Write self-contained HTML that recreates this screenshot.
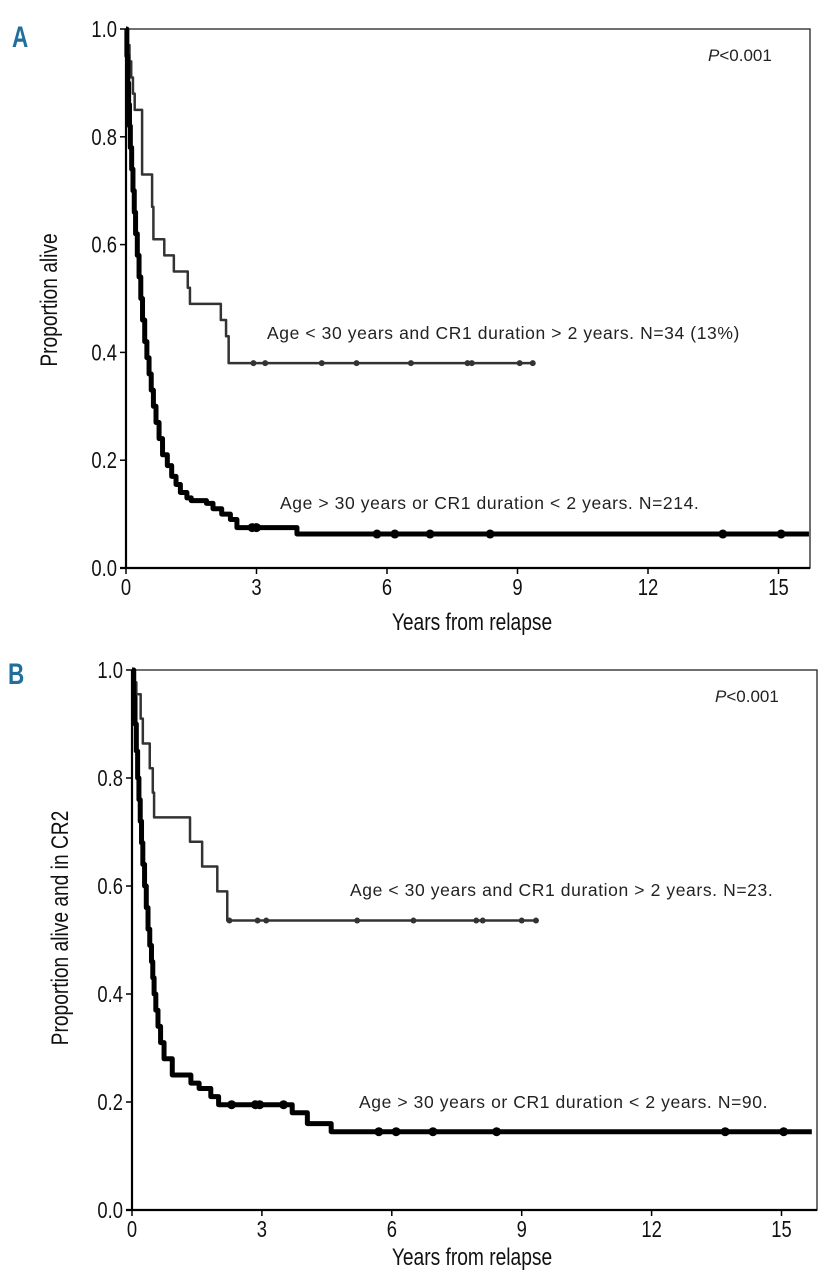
<!DOCTYPE html>
<html><head><meta charset="utf-8"><style>
html,body{margin:0;padding:0;background:#fff;}
svg{display:block;font-family:"Liberation Sans",sans-serif;}
</style></head><body>
<svg id="chart" width="832" height="1280" viewBox="0 0 832 1280"></svg>
<script>
// Shared tick data
const yTicks = [0, 0.2, 0.4, 0.6, 0.8, 1.0];
const yTickLabels = ["0.0","0.2","0.4","0.6","0.8","1.0"];
const xTicks = [0, 3, 6, 9, 12, 15];
const xTickLabels = ["0","3","6","9","12","15"];

// Panel A, group 1 (Age<30 & CR1>2y): times where survival changes to surv[i]
const aG1Times = [0,0.04,0.08,0.12,0.16,0.2,0.37,0.6,0.63,0.88,1.1,1.42,1.47,2.18,2.3,2.36,9.35];
const aG1Surv  = [1.0,0.97,0.94,0.91,0.88,0.85,0.73,0.67,0.61,0.58,0.55,0.52,0.49,0.46,0.43,0.38,0.38];
const aG1Cens  = [2.93,3.2,4.5,5.3,6.55,7.85,7.95,9.05,9.35];
// Panel A, group 2
const aG2Times = [0,0.02,0.04,0.06,0.08,0.1,0.13,0.16,0.19,0.22,0.26,0.3,0.34,0.38,0.43,0.48,0.53,0.58,0.63,0.69,0.76,0.84,0.95,1.05,1.15,1.25,1.4,1.5,1.85,2.0,2.2,2.4,2.55,3.93,15.7];
const aG2Surv  = [1.0,0.95,0.9,0.86,0.82,0.78,0.74,0.7,0.66,0.62,0.58,0.54,0.5,0.46,0.42,0.39,0.36,0.33,0.3,0.27,0.24,0.21,0.19,0.17,0.155,0.14,0.13,0.125,0.12,0.11,0.1,0.09,0.075,0.063,0.063];
const aG2Cens  = [2.9,3.0,5.77,6.18,6.99,8.37,13.72,15.06];

// Panel B, group 1
const bG1Times = [0,0.05,0.1,0.2,0.25,0.41,0.48,0.51,1.34,1.62,1.97,2.2,9.35];
const bG1Surv  = [1.0,0.977,0.955,0.91,0.864,0.818,0.773,0.727,0.682,0.636,0.59,0.536,0.536];
const bG1Cens  = [2.25,2.9,3.1,5.2,6.5,7.95,8.1,9.0,9.33];
// Panel B, group 2
const bG2Times = [0,0.04,0.07,0.1,0.13,0.16,0.19,0.22,0.25,0.29,0.33,0.37,0.41,0.45,0.48,0.51,0.55,0.6,0.66,0.74,0.93,1.36,1.55,1.82,2.0,3.7,4.05,4.6,15.7];
const bG2Surv  = [1.0,0.95,0.9,0.85,0.8,0.76,0.72,0.68,0.64,0.6,0.56,0.52,0.49,0.46,0.43,0.4,0.37,0.34,0.31,0.28,0.25,0.235,0.225,0.21,0.195,0.18,0.16,0.145,0.145];
const bG2Cens  = [2.3,2.85,2.95,3.5,5.7,6.1,6.95,8.42,13.7,15.05];

const NS = "http://www.w3.org/2000/svg";
const svg = document.getElementById("chart");
function mk(tag, attrs, parent, text){
  const e = document.createElementNS(NS, tag);
  for (const k in attrs) e.setAttribute(k, attrs[k]);
  if (text !== undefined) e.textContent = text;
  (parent || svg).appendChild(e);
  return e;
}
function narrow(x, y, txt, size, anchor, parent, rot, sx){
  const e = mk("text", {x:0, y:0, "text-anchor":anchor, "font-size":size, fill:"#111",
    transform:`translate(${x},${y})${rot?' rotate(-90)':''} scale(${sx||0.8},1)`}, parent, txt);
  return e;
}
function stepAt(times, surv, t){
  let s = surv[0];
  for (let i=0;i<times.length;i++){ if (times[i] <= t) s = surv[i]; }
  return s;
}
function drawPanel(cfg){
  const g = mk("g", {});
  
  
  const X = t => cfg.x0 + t*cfg.pxPerYear;
  const Y = v => cfg.y0 - v*(cfg.y0 - cfg.y1);
  const fr = mk("rect", {x:cfg.x0, y:cfg.y1, width:cfg.xr-cfg.x0, height:cfg.y0-cfg.y1, fill:"none", stroke:"#222", "stroke-width":1.3}, g);
  
  
  mk("line", {x1:cfg.x0, y1:cfg.y1, x2:cfg.x0, y2:cfg.y0, stroke:"#000", "stroke-width":2.2}, g);
  mk("line", {x1:cfg.x0-6, y1:cfg.y0, x2:cfg.xr, y2:cfg.y0, stroke:"#000", "stroke-width":2.2}, g);
  yTicks.forEach((v,i)=>{
    mk("line", {x1:cfg.x0-6, y1:Y(v), x2:cfg.x0, y2:Y(v), stroke:"#000", "stroke-width":1.5}, g);
    const t = narrow(cfg.x0-9, Y(v)+8, yTickLabels[i], 23, "end", g);
    
    
  });
  xTicks.forEach((v,i)=>{
    mk("line", {x1:X(v), y1:cfg.y0, x2:X(v), y2:cfg.y0+6, stroke:"#000", "stroke-width":1.5}, g);
    const t = narrow(X(v), cfg.y0+27, xTickLabels[i], 23, "middle", g);
    
    
  });
  const xt = narrow(472, cfg.y0+cfg.xtOff, "Years from relapse", 24, "middle", g);
  
  
  const yt = narrow(cfg.ytx, cfg.yty, cfg.ytitle, 24, "middle", g, true);
  
  
  const pl = mk("text", {x:cfg.xr-102, y:cfg.y1+32, "font-size":17, fill:"#222"}, g);
  
  
  mk("tspan", {"font-style":"italic"}, pl, "P");
  mk("tspan", {}, pl, "<0.001");
  const lt = mk("text", {x:0, y:0, "font-size":30, "font-weight":"bold", fill:"#1f6e9c",
    transform:`translate(${cfg.letterX},${cfg.letterY}) scale(0.75,1)`}, g, cfg.letter);
  
  
  cfg.series.forEach(s=>{
    let d = `M${X(s.times[0])},${Y(s.surv[0])}`;
    for (let i=1;i<s.times.length;i++){
      d += ` H${X(s.times[i])} V${Y(s.surv[i])}`;
    }
    const p = mk("path", {d:d, fill:"none", stroke:s.color, "stroke-width":s.w, "stroke-linejoin":"round"}, g);
    
    
    s.cens.forEach(c=>{
      const dot = mk("circle", {cx:X(c), cy:Y(stepAt(s.times,s.surv,c)), r:s.r, fill:s.color}, g);
      
      
    });
    const lab = mk("text", {x:s.labX, y:s.labY, "font-size":17.5, fill:"#222", "letter-spacing":"0.6"}, g, s.label);
    
    
  });
}
drawPanel({name:"panel-a", letter:"A", letterX:12, letterY:47, x0:126, xr:810, pxPerYear:43.5, y0:568, y1:29,
  ytitle:"Proportion alive", ytx:57, yty:300, xtOff:62,
  series:[
    {name:"curve-young-long-cr1", times:aG1Times, surv:aG1Surv, cens:aG1Cens, color:"#333", w:2.5, r:3,
     label:"Age < 30 years and CR1 duration > 2 years. N=34 (13%)", labX:267, labY:339},
    {name:"curve-other", times:aG2Times, surv:aG2Surv, cens:aG2Cens, color:"#000", w:5, r:4.5,
     label:"Age > 30 years or CR1 duration < 2 years. N=214.", labX:280, labY:509}
  ]});
drawPanel({name:"panel-b", letter:"B", letterX:8, letterY:684, x0:132, xr:817, pxPerYear:43.3, y0:1210, y1:670,
  ytitle:"Proportion alive and in CR2", ytx:68, yty:928, xtOff:55,
  series:[
    {name:"curve-young-long-cr1", times:bG1Times, surv:bG1Surv, cens:bG1Cens, color:"#333", w:2.5, r:3,
     label:"Age < 30 years and CR1 duration > 2 years. N=23.", labX:350, labY:896},
    {name:"curve-other", times:bG2Times, surv:bG2Surv, cens:bG2Cens, color:"#000", w:5, r:4.5,
     label:"Age > 30 years or CR1 duration < 2 years. N=90.", labX:359, labY:1108}
  ]});
</script>
</body></html>
